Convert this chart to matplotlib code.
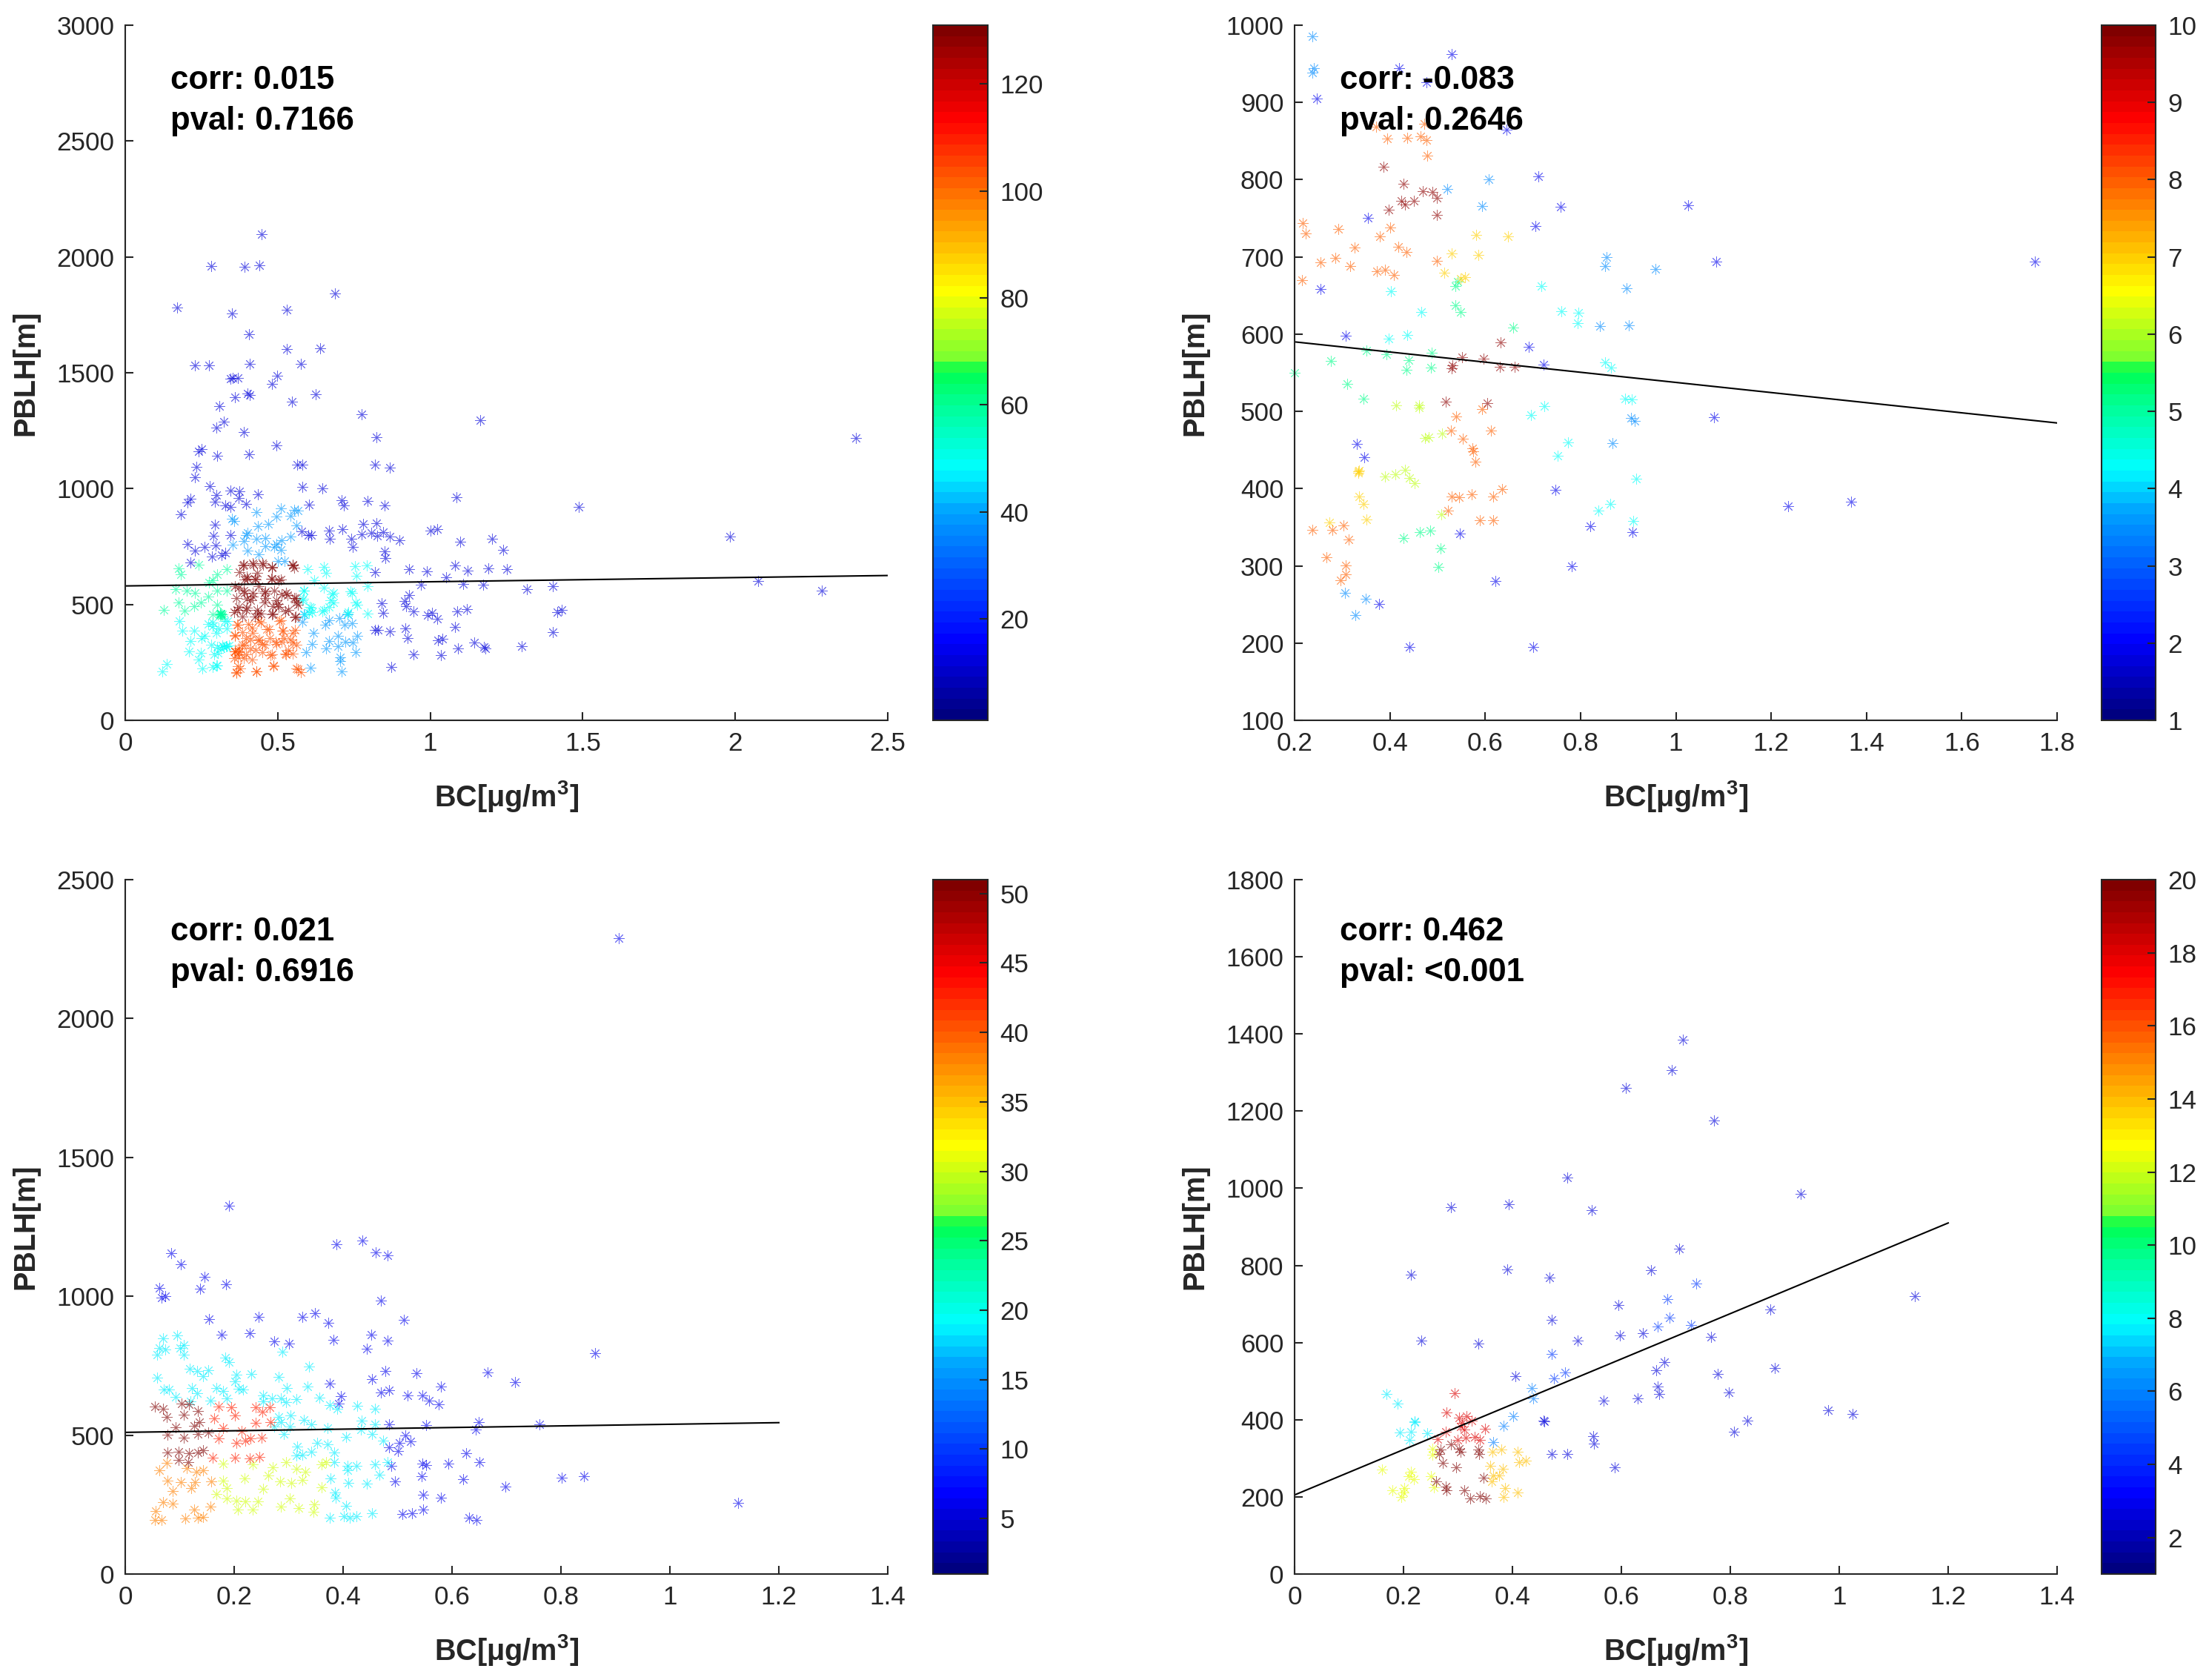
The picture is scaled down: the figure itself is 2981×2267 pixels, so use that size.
import numpy as np
import matplotlib
matplotlib.use('Agg')
import matplotlib.pyplot as plt
from matplotlib.colors import LinearSegmentedColormap, Normalize
from matplotlib.cm import ScalarMappable

plt.rcParams['font.family'] = ['Liberation Sans', 'DejaVu Sans']
plt.rcParams['mathtext.fontset'] = 'custom'
plt.rcParams['mathtext.rm'] = 'Liberation Sans:bold'
plt.rcParams['mathtext.bf'] = 'Liberation Sans:bold'

# Panel 1 (top left), grouped by colour value
p1_blue_x = [.448,.282,.392,.439,.687,.171,.349,.530,.406,.530,.639,.229,.274,.409,.575,.498,.344,.353,.369,.481,.402,.408,.360,.625,.547,.309,.775,.322,.298,1.163,.388,.823,.495,.250,.240,.302,.405,.564,.581,.819,.867,.234,.228,.276,.580,.647,.344,.374,.298,.434,.371,.214,.203,.293,.329,.344,.395,.603,.710,.716,.794,.850,1.085,1.487,.183,1.983,2.076,2.284,2.395,.780,.823,1.0,1.023,.668,.713,.578,.600,.609,.671,.741,.775,.806,.826,.845,.868,.899,.747,1.099,1.203,1.240,.851,.853,.819,.930,.988,1.082,1.122,1.191,1.250,1.051,.969,1.107,1.174,1.318,1.402,.293,.346,.288,.203,.228,.260,.296,.284,.315,.329,.214,.930,.840,.915,.922,.845,.946,1.005,.992,1.023,1.088,1.121,1.416,1.431,1.402,1.082,.918,.819,.829,.868,.926,1.025,1.039,1.144,1.175,1.181,1.299,1.090,1.034,.946,.873]
p1_blue_y = [2098,1959,1957,1965,1843,1780,1757,1771,1667,1602,1604,1533,1533,1537,1537,1486,1473,1478,1478,1451,1410,1404,1394,1408,1376,1355,1320,1288,1263,1296,1245,1222,1186,1171,1161,1141,1149,1102,1104,1102,1092,1094,1049,1010,1006,1002,990,988,971,976,959,957,941,943,929,920,935,931,951,929,947,929,963,920,890,794,602,561,1218,847,851,820,824,820,826,814,800,800,782,784,804,808,796,812,794,778,747,771,782,737,729,700,639,651,643,669,645,655,651,616,586,590,586,565,580,843,800,796,761,731,749,755,708,712,722,682,539,506,514,492,463,471,463,453,439,469,480,467,476,382,402,398,390,390,384,355,345,351,337,318,310,320,310,282,286,229]
p1_light_x = [.431,.509,.553,.567,.543,.496,.349,.358,.436,.468,.561,.400,.395,.389,.431,.460,.541,.512,.353,.400,.460,.488,.509,.496,.437,.501,.522,.581,.617,.667,.656,.701,.729,.719,.744,.586,.698,.667,.721,.760,.747,.612,.594,.659,.698,.755,.705,.705,.709,.608]
p1_light_y = [900,916,908,904,882,878,871,861,839,847,841,810,798,773,782,788,792,778,757,733,753,749,737,761,718,688,688,424,378,433,412,441,457,412,420,457,365,343,339,365,335,329,294,310,320,294,273,257,212,227]
p1_cyan_x = [.121,.136,.253,.287,.301,.209,.248,.240,.291,.313,.332,.341,.282,.304,.214,.186,.225,.259,.178,.287,.326,.333,.251,.271,.298,.586,.581,.605,.589,.612,.651,.674,.682,.667,.744,.760,.795,.729,.597,.651,.659,.752,.791,.757,.620,.651,.795,.602,.610,.679,.683,.646,.585,.582,.739,.756,.732,.302,.330,.298,.286,.306,.335,.318,.322]
p1_cyan_y = [210,243,224,229,237,298,292,263,284,310,320,322,327,290,341,386,386,365,427,406,427,396,355,416,376,559,518,488,457,467,478,518,549,488,549,498,461,461,651,661,635,665,669,624,604,573,580,464,485,545,510,470,560,524,555,510,466,316,321,236,422,396,429,322,318]
p1_green_x = [.127,.174,.183,.240,.166,.202,.229,.274,.287,.302,.333,.333,.302,.271,.248,.174,.194,.225,.287,.313,.313,.319,.302,.314,.316,.312,.311]
p1_green_y = [476,657,631,673,565,559,549,596,604,631,651,559,559,535,508,508,473,492,457,461,461,457,498,456,452,454,460]
p1_orange_x = [.369,.403,.437,.465,.515,.509,.360,.395,.434,.473,.519,.550,.360,.372,.411,.450,.496,.535,.550,.369,.364,.431,.485,.566,.369,.395,.450,.477,.527,.419,.360,.360,.367,.383,.416,.444,.472,.505,.517,.557,.375,.371,.391,.411,.428,.456,.493,.513,.525,.549,.541,.561,.356,.389,.416,.480,.376,.365,.430,.487,.561,.576,.359,.383,.440]
p1_orange_y = [412,416,427,392,386,433,365,355,345,355,355,376,298,310,310,331,331,304,335,233,208,212,237,222,273,284,294,280,284,376,298,298,412,381,401,422,394,428,388,390,299,294,327,348,305,327,338,338,289,289,348,327,268,268,262,284,225,204,211,232,223,207,369,327,348]
p1_dark_x = [.388,.419,.450,.375,.550,.481,.400,.426,.481,.504,.360,.388,.419,.457,.527,.558,.364,.411,.457,.496,.566,.357,.434,.481,.558,.395,.504,.535,.372,.437,.488,.387,.420,.452,.482,.549,.553,.399,.432,.391,.428,.479,.509,.371,.391,.419,.399,.460,.460,.513,.533,.553,.561,.367,.399,.432,.444,.484,.501,.484,.525,.557,.383,.424]
p1_dark_y = [671,678,678,641,667,661,610,610,610,604,580,559,549,549,549,529,529,518,508,518,498,467,461,457,447,478,488,478,488,580,559,667,673,673,659,673,659,619,635,609,609,611,609,572,550,534,523,555,529,545,540,529,507,476,486,476,460,491,502,460,470,444,449,449]

# Panel 2 (top right)
p2_blue_x = [.530,.419,.477,.247,.644,.711,.354,.758,.706,1.025,1.084,.254,.307,.691,.723,1.080,.331,.346,.747,1.235,1.367,.821,.909,.546,.781,.621,.377,.441,.700,1.753]
p2_blue_y = [963,944,926,905,865,804,751,765,740,767,694,658,598,584,561,492,458,441,398,377,383,351,344,342,300,280,251,195,195,694]
p2_light_x = [.238,.240,.237,.521,.608,.594,.854,.852,.958,.896,.840,.901,.906,.914,.867,.306,.350,.328]
p2_light_y = [986,944,939,788,800,766,700,688,684,659,610,611,491,488,459,265,257,236]
p2_cyan_x = [.402,.718,.759,.795,.794,.466,.437,.397,.851,.864,.894,.907,.724,.696,.774,.752,.917,.862,.837,.911]
p2_cyan_y = [656,662,630,628,614,629,599,594,563,557,516,515,507,495,460,443,413,380,372,358]
p2_green_x = [.537,.542,.538,.548,.658,.351,.393,.487,.440,.435,.486,.276,.200,.310,.345,.429,.463,.484,.506,.501]
p2_green_y = [662,668,637,629,609,579,574,576,566,554,557,565,550,536,516,336,344,346,323,299]
p2_lime_x = [.413,.462,.462,.473,.482,.510,.390,.412,.431,.441,.452,.508]
p2_lime_y = [508,508,505,466,467,471,416,419,424,414,407,367]
p2_yellow_x = [.334,.335,.333,.336,.344,.351,.273,.581,.648,.529,.586,.514,.549,.557]
p2_yellow_y = [422,423,420,390,380,360,356,728,727,704,703,680,672,674]
p2_orange_x = [.217,.224,.291,.326,.254,.285,.215,.317,.379,.400,.417,.435,.373,.389,.409,.498,.371,.394,.437,.465,.472,.477,.479,.237,.280,.302,.314,.267,.308,.308,.297,.539,.528,.553,.594,.612,.573,.574,.580,.529,.545,.572,.617,.635,.522,.588,.617]
p2_orange_y = [744,730,736,712,693,699,670,688,727,738,713,706,681,683,677,695,869,853,854,856,872,851,831,347,347,352,334,311,301,289,281,493,475,465,503,475,452,448,435,390,389,393,390,399,372,359,359]
p2_red_x = [.386,.428,.469,.489,.498,.498,.397,.424,.432,.450,.633,.551,.597,.631,.662,.531,.529,.517,.605]
p2_red_y = [817,795,785,784,776,754,761,773,768,773,589,570,568,558,558,560,556,513,511]

# Panel 3 (bottom left)
p3_blue_x = [.906,.191,.084,.102,.388,.435,.460,.482,.145,.063,.138,.185,.067,.073,.469,.154,.245,.325,.348,.373,.512,.177,.229,.273,.301,.382,.452,.482,.444,.862,.535,.665,.715,.477,.453,.579,.375,.470,.484,.518,.545,.558,.575,.396,.392,.485,.552,.649,.761,.644,.514,.524,.504,.485,.500,.626,.488,.545,.553,.593,.651,.495,.544,.621,.698,.801,.842,.547,.580,.509,.526,.547,.631,.645,1.125]
p3_blue_y = [2289,1327,1156,1116,1188,1201,1159,1147,1069,1031,1028,1042,994,1001,985,919,927,926,938,905,916,861,868,837,829,842,863,841,812,795,722,727,691,732,703,674,686,654,662,642,643,623,611,640,613,539,536,548,539,521,500,478,471,456,444,436,390,397,393,398,403,334,352,342,315,347,352,286,276,216,220,233,204,194,257]
p3_cyan_x = [.069,.095,.108,.063,.100,.074,.059,.107,.289,.184,.191,.337,.119,.132,.152,.143,.231,.281,.204,.202,.208,.217,.059,.071,.080,.122,.132,.168,.180,.093,.120,.156,.187,.253,.253,.269,.286,.297,.295,.314,.335,.356,.376,.389,.426,.458,.282,.304,.286,.328,.273,.302,.342,.371,.434,.458,.291,.406,.432,.453,.474,.315,.352,.371,.384,.314,.325,.342,.384,.408,.425,.458,.481,.408,.467,.377,.410,.443,.385,.386,.406,.375,.402,.412,.425,.453]
p3_cyan_y = [849,858,825,815,815,808,790,791,800,778,764,747,740,732,735,713,720,710,718,693,667,664,706,664,664,671,650,671,659,638,621,625,633,642,621,633,633,671,620,630,674,636,608,594,606,594,565,570,548,556,531,531,539,526,553,539,505,494,519,505,480,460,471,466,437,427,429,441,403,390,390,395,403,373,357,345,328,325,294,276,245,203,209,203,208,220]
p3_lime_x = [.360,.369,.347,.360,.314,.295,.331,.325,.305,.285,.302,.286,.318,.345,.271,.234,.262,.219,.253,.180,.187,.168,.187,.204,.221,.243,.207,.234,.180]
p3_lime_y = [395,403,250,313,378,403,369,339,327,334,271,242,237,225,383,395,356,344,306,335,310,289,272,264,262,262,233,233,398]
p3_orange_x = [.076,.063,.113,.130,.143,.078,.102,.121,.128,.158,.087,.087,.056,.069,.054,.067,.110,.127,.133,.143,.157]
p3_orange_y = [400,374,381,369,373,337,332,310,330,334,298,254,228,259,196,196,199,233,203,206,242]
p3_red_x = [.172,.163,.195,.202,.239,.252,.265,.239,.267,.213,.180,.204,.221,.250,.230,.201,.228,.246,.172,.161]
p3_red_y = [604,560,599,570,599,585,599,545,548,514,526,471,480,492,488,420,415,422,488,420]
p3_dark_x = [.054,.069,.076,.104,.117,.108,.134,.136,.093,.126,.078,.108,.134,.152,.078,.098,.117,.134,.143,.098,.115]
p3_dark_y = [604,596,565,613,611,574,587,548,529,534,502,492,505,509,437,441,434,437,446,412,403]

# Panel 4 (bottom right)
p4_blue_x = [.713,.693,.608,.770,.500,.929,.393,.287,.546,.390,.214,.468,.706,.655,1.139,.472,.594,.874,.233,.338,.520,.597,.640,.764,.881,.777,.679,.664,.406,.667,.670,.630,.567,.797,.980,1.025,.831,.807,.457,.458,.548,.550,.472,.501,.588]
p4_blue_y = [1386,1307,1261,1175,1027,986,959,951,944,790,777,768,844,788,720,659,698,685,605,597,605,618,624,615,535,518,550,529,512,486,466,455,450,470,425,414,397,368,397,396,358,338,311,312,276]
p4_mid_x = [.472,.497,.476,.666,.688,.685,.737,.728]
p4_mid_y = [570,522,507,641,664,713,754,646]
p4_light_x = [.435,.438,.401,.384,.365]
p4_light_y = [482,456,409,385,342]
p4_cyan_x = [.169,.189,.193,.213,.211,.220,.221,.243]
p4_cyan_y = [467,442,366,369,347,395,394,365]
p4_lime_x = [.161,.180,.201,.200,.196,.213,.210,.219,.250,.256,.253,.253]
p4_lime_y = [270,217,223,211,199,266,254,245,254,224,325,309]
p4_yellow_x = [.363,.380,.410,.412,.424,.359,.382,.364,.375,.362,.386,.409,.384]
p4_yellow_y = [317,323,317,290,293,281,273,256,256,241,222,211,199]
p4_red_x = [.294,.279,.302,.316,.325,.307,.312,.349,.278,.263,.299,.314,.331,.340,.305]
p4_red_y = [468,419,406,410,398,392,374,377,368,349,348,354,355,347,382]
p4_dark_x = [.287,.302,.305,.268,.265,.272,.296,.338,.339,.347,.260,.277,.279,.312,.323,.340,.351]
p4_dark_y = [337,325,317,322,312,288,277,322,311,250,241,227,217,218,196,201,195]

# Regression line ends
line_x = [[0, 2.5], [0.2, 1.8], [0, 1.2], [0, 1.2]]
line_y = [[580, 625], [590, 485], [510, 545], [205, 910]]

corr_labels = ['corr: 0.015', 'corr: -0.083', 'corr: 0.021', 'corr: 0.462']
pval_labels = ['pval: 0.7166', 'pval: 0.2646', 'pval: 0.6916', 'pval: <0.001']

xlims = [(0, 2.5), (0.2, 1.8), (0, 1.4), (0, 1.4)]
ylims = [(0, 3000), (100, 1000), (0, 2500), (0, 1800)]
xticks = [[0, .5, 1, 1.5, 2, 2.5], np.arange(.2, 1.81, .2), np.arange(0, 1.41, .2), np.arange(0, 1.41, .2)]
xticklabels = [['0', '0.5', '1', '1.5', '2', '2.5'],
               ['0.2', '0.4', '0.6', '0.8', '1', '1.2', '1.4', '1.6', '1.8'],
               ['0', '0.2', '0.4', '0.6', '0.8', '1', '1.2', '1.4'],
               ['0', '0.2', '0.4', '0.6', '0.8', '1', '1.2', '1.4']]
yticks = [np.arange(0, 3001, 500), np.arange(100, 1001, 100), np.arange(0, 2501, 500), np.arange(0, 1801, 200)]
c_ranges = [(1, 131), (1, 10), (1, 51), (1, 20)]
c_ticks = [np.arange(20, 121, 20), np.arange(1, 11), np.arange(5, 51, 5), np.arange(2, 21, 2)]

panels = [
    [(p1_blue_x, p1_blue_y, 12), (p1_light_x, p1_light_y, 38), (p1_cyan_x, p1_cyan_y, 48), (p1_green_x, p1_green_y, 58),
     (p1_orange_x, p1_orange_y, 103), (p1_dark_x, p1_dark_y, 130)],
    [(p2_blue_x, p2_blue_y, 1.9), (p2_light_x, p2_light_y, 3.4), (p2_cyan_x, p2_cyan_y, 4.3), (p2_green_x, p2_green_y, 5.2),
     (p2_lime_x, p2_lime_y, 6.1), (p2_yellow_x, p2_yellow_y, 7), (p2_orange_x, p2_orange_y, 8), (p2_red_x, p2_red_y, 9.8)],
    [(p3_blue_x, p3_blue_y, 6), (p3_cyan_x, p3_cyan_y, 18.5), (p3_lime_x, p3_lime_y, 30), (p3_orange_x, p3_orange_y, 38),
     (p3_red_x, p3_red_y, 43), (p3_dark_x, p3_dark_y, 50.5)],
    [(p4_blue_x, p4_blue_y, 2.5), (p4_mid_x, p4_mid_y, 4.5), (p4_light_x, p4_light_y, 6), (p4_cyan_x, p4_cyan_y, 7.8),
     (p4_lime_x, p4_lime_y, 12.3), (p4_yellow_x, p4_yellow_y, 14), (p4_red_x, p4_red_y, 18), (p4_dark_x, p4_dark_y, 20)],
]

# jet variant
cmap = LinearSegmentedColormap.from_list('jetish', [
    (0.0, (0, 0, .5)), (.11, (0, 0, 1)), (.30, (0, .65, 1)), (.36, (0, 1, 1)),
    (.45, (0, 1, .6)), (.505, (0, 1, .3)), (.515, (.45, 1, .2)), (.62, (1, 1, 0)),
    (.76, (1, .45, 0)), (.87, (1, 0, 0)), (1.0, (.5, 0, 0))], N=64)

W, H = 2981, 2267
fig = plt.figure(figsize=(W / 300, H / 300), dpi=300)

# pixel boxes: left, right, top, bottom
ax_box = [(169, 1198, 34, 972), (1747, 2776, 34, 972), (169, 1198, 1187, 2124), (1747, 2776, 1187, 2124)]
cb_box = [(1259, 1333), (2836, 2909)]
text_y = [(.921, .862), (.921, .862), (.925, .866), (.925, .866)]
dark = '#262626'

for i in range(4):
    l, r, t, b = ax_box[i]
    ax = fig.add_axes([l / W, 1 - b / H, (r - l) / W, (b - t) / H])
    norm = Normalize(*c_ranges[i])
    for xs, ys, c in panels[i]:
        ax.scatter(xs, ys, s=11, marker=(8, 2, 0), color=cmap(norm(c)), linewidths=.22, alpha=.6, clip_on=False)
    ax.plot(line_x[i], line_y[i], color='k', lw=.5)
    ax.set_xlim(xlims[i])
    ax.set_ylim(ylims[i])
    ax.set_xticks(xticks[i])
    ax.set_xticklabels(xticklabels[i])
    ax.set_yticks(yticks[i])
    ax.spines['top'].set_visible(False)
    ax.spines['right'].set_visible(False)
    ax.spines['left'].set_linewidth(.5)
    ax.spines['bottom'].set_linewidth(.5)
    ax.spines['left'].set_color(dark)
    ax.spines['bottom'].set_color(dark)
    ax.tick_params(direction='in', length=2.7, width=.5, labelsize=8.4, color=dark, labelcolor=dark, pad=3.5)
    ax.set_xlabel(r'BC[$\mathregular{\mu}$g/m$^{3}$]', fontsize=9.5, fontweight='bold', color=dark, labelpad=7.5)
    ax.set_ylabel('PBLH[m]', fontsize=9.5, fontweight='bold', color=dark, labelpad=5.5)
    ax.text(.059, text_y[i][0], corr_labels[i], transform=ax.transAxes, fontsize=10.5, fontweight='bold', va='center', color='k')
    ax.text(.059, text_y[i][1], pval_labels[i], transform=ax.transAxes, fontsize=10.5, fontweight='bold', va='center', color='k')

    cl, cr = cb_box[i % 2]
    cax = fig.add_axes([cl / W, 1 - b / H, (cr - cl) / W, (b - t) / H])
    cb = fig.colorbar(ScalarMappable(norm=norm, cmap=cmap), cax=cax, ticks=c_ticks[i])
    cb.ax.tick_params(direction='in', length=2.7, width=.5, labelsize=8.4, color=dark, labelcolor=dark, pad=4)
    cb.outline.set_linewidth(.5)
    cb.outline.set_edgecolor(dark)

fig.savefig('out.png', dpi=300)
